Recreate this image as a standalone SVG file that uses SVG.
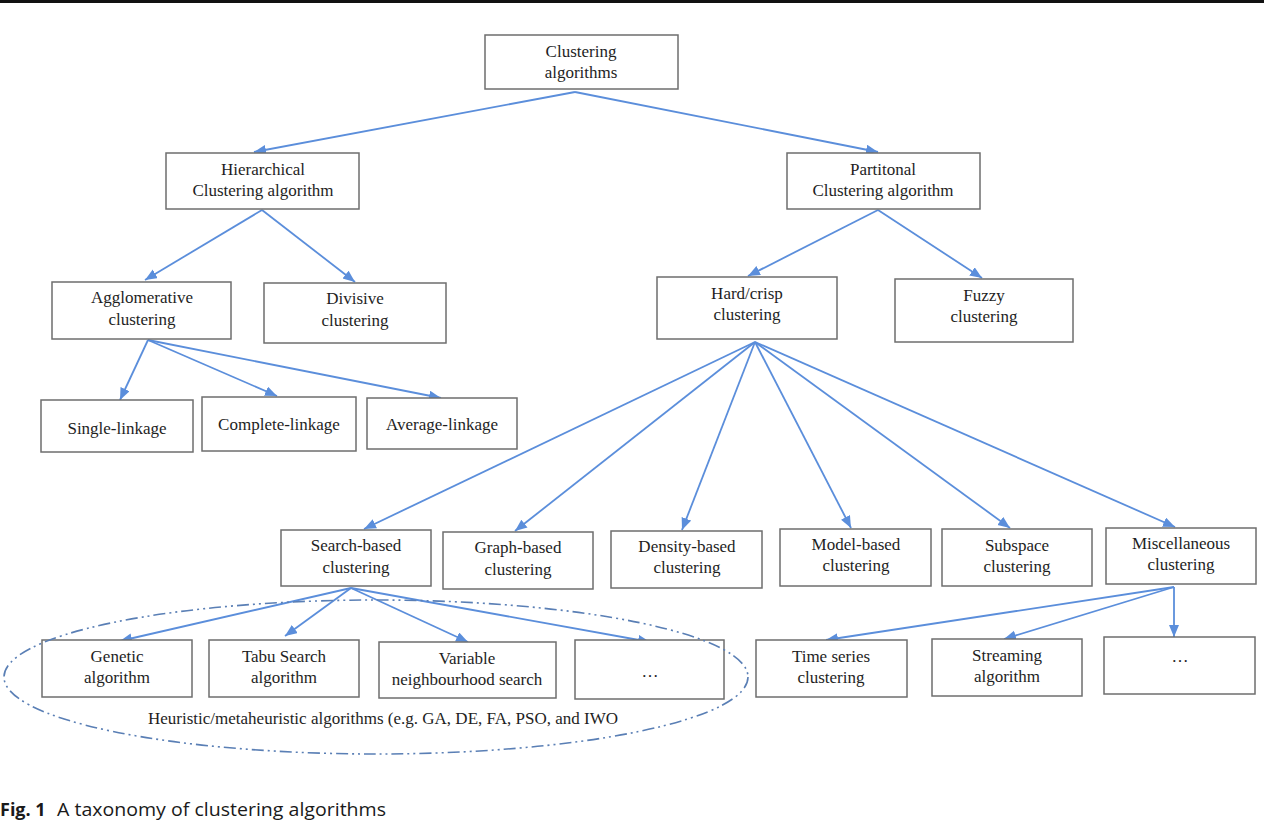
<svg xmlns="http://www.w3.org/2000/svg" width="1272" height="833" viewBox="0 0 1272 833">
<style>
.box{fill:#fff;stroke:#6e6e6e;stroke-width:1.5}
.t{font-family:"Liberation Serif","Times New Roman",serif;font-size:17px;fill:#1e1e1e;text-anchor:middle}
.c{stroke:#5b8edb;stroke-width:1.8;fill:none}
.cap{font-family:"Open Sans","Liberation Sans",sans-serif;font-size:18px;fill:#1a1a1a}
</style>
<defs>
<marker id="ah" markerUnits="userSpaceOnUse" markerWidth="14" markerHeight="12" refX="12" refY="5" orient="auto">
<path d="M0,0 L12,5 L0,10 Z" fill="#5b8edb"/>
</marker>
</defs>
<rect x="0" y="0" width="1264" height="3" fill="#111"/>

<g id="connectors">
<line class="c" x1="575" y1="92" x2="254" y2="152" marker-end="url(#ah)"/>
<line class="c" x1="575" y1="92" x2="878" y2="152" marker-end="url(#ah)"/>
<line class="c" x1="262" y1="210" x2="145" y2="280" marker-end="url(#ah)"/>
<line class="c" x1="262" y1="210" x2="355" y2="282" marker-end="url(#ah)"/>
<line class="c" x1="878" y1="210" x2="748" y2="276" marker-end="url(#ah)"/>
<line class="c" x1="878" y1="210" x2="982" y2="278" marker-end="url(#ah)"/>
<line class="c" x1="148" y1="340" x2="120" y2="400" marker-end="url(#ah)"/>
<line class="c" x1="148" y1="340" x2="277" y2="396" marker-end="url(#ah)"/>
<line class="c" x1="148" y1="340" x2="441" y2="398" marker-end="url(#ah)"/>
<line class="c" x1="755" y1="342" x2="364" y2="529" marker-end="url(#ah)"/>
<line class="c" x1="755" y1="342" x2="515" y2="531" marker-end="url(#ah)"/>
<line class="c" x1="755" y1="342" x2="682" y2="530" marker-end="url(#ah)"/>
<line class="c" x1="755" y1="342" x2="851" y2="528" marker-end="url(#ah)"/>
<line class="c" x1="755" y1="342" x2="1010" y2="528" marker-end="url(#ah)"/>
<line class="c" x1="755" y1="342" x2="1175" y2="527" marker-end="url(#ah)"/>
<line class="c" x1="351" y1="588" x2="120" y2="641" marker-end="url(#ah)"/>
<line class="c" x1="351" y1="588" x2="285" y2="636" marker-end="url(#ah)"/>
<line class="c" x1="351" y1="588" x2="468" y2="642" marker-end="url(#ah)"/>
<line class="c" x1="351" y1="588" x2="650" y2="642" marker-end="url(#ah)"/>
<line class="c" x1="1174" y1="587" x2="826" y2="640" marker-end="url(#ah)"/>
<line class="c" x1="1174" y1="587" x2="1004" y2="639" marker-end="url(#ah)"/>
<line class="c" x1="1174" y1="587" x2="1174" y2="637" marker-end="url(#ah)"/>
</g>

<g id="n-root"><rect class="box" x="485" y="35" width="193" height="54"/><text class="t" x="581" y="57">Clustering</text><text class="t" x="581" y="78">algorithms</text></g>
<g id="n-hier"><rect class="box" x="166" y="153" width="193" height="56"/><text class="t" x="263" y="175">Hierarchical</text><text class="t" x="263" y="196">Clustering algorithm</text></g>
<g id="n-part"><rect class="box" x="787" y="153" width="193" height="56"/><text class="t" x="883" y="175">Partitonal</text><text class="t" x="883" y="196">Clustering algorithm</text></g>
<g id="n-agglo"><rect class="box" x="52" y="282" width="179" height="57"/><text class="t" x="142" y="303">Agglomerative</text><text class="t" x="142" y="325">clustering</text></g>
<g id="n-div"><rect class="box" x="264" y="283" width="182" height="60"/><text class="t" x="355" y="304">Divisive</text><text class="t" x="355" y="326">clustering</text></g>
<g id="n-hard"><rect class="box" x="657" y="277" width="180" height="62"/><text class="t" x="747" y="299">Hard/crisp</text><text class="t" x="747" y="320">clustering</text></g>
<g id="n-fuzzy"><rect class="box" x="895" y="279" width="178" height="63"/><text class="t" x="984" y="301">Fuzzy</text><text class="t" x="984" y="322">clustering</text></g>
<g id="n-single"><rect class="box" x="41" y="400" width="152" height="52"/><text class="t" x="117" y="434">Single-linkage</text></g>
<g id="n-complete"><rect class="box" x="202" y="397" width="154" height="54"/><text class="t" x="279" y="430">Complete-linkage</text></g>
<g id="n-average"><rect class="box" x="367" y="398" width="150" height="51"/><text class="t" x="442" y="430">Average-linkage</text></g>
<g id="n-search"><rect class="box" x="281" y="530" width="150" height="56"/><text class="t" x="356" y="551">Search-based</text><text class="t" x="356" y="573">clustering</text></g>
<g id="n-graph"><rect class="box" x="443" y="532" width="150" height="57"/><text class="t" x="518" y="553">Graph-based</text><text class="t" x="518" y="575">clustering</text></g>
<g id="n-density"><rect class="box" x="611" y="531" width="151" height="57"/><text class="t" x="687" y="552">Density-based</text><text class="t" x="687" y="573">clustering</text></g>
<g id="n-model"><rect class="box" x="780" y="529" width="151" height="57"/><text class="t" x="856" y="550">Model-based</text><text class="t" x="856" y="571">clustering</text></g>
<g id="n-subspace"><rect class="box" x="942" y="529" width="150" height="57"/><text class="t" x="1017" y="551">Subspace</text><text class="t" x="1017" y="572">clustering</text></g>
<g id="n-misc"><rect class="box" x="1106" y="528" width="150" height="56"/><text class="t" x="1181" y="549">Miscellaneous</text><text class="t" x="1181" y="570">clustering</text></g>
<g id="n-genetic"><rect class="box" x="42" y="640" width="150" height="57"/><text class="t" x="117" y="662">Genetic</text><text class="t" x="117" y="683">algorithm</text></g>
<g id="n-tabu"><rect class="box" x="209" y="640" width="150" height="57"/><text class="t" x="284" y="662">Tabu Search</text><text class="t" x="284" y="683">algorithm</text></g>
<g id="n-vns"><rect class="box" x="379" y="642" width="177" height="56"/><text class="t" x="467" y="664">Variable</text><text class="t" x="467" y="685">neighbourhood search</text></g>
<g id="n-dots1"><rect class="box" x="575" y="640" width="149" height="59"/><text class="t" x="650" y="677">…</text></g>
<g id="n-time"><rect class="box" x="756" y="640" width="151" height="57"/><text class="t" x="831" y="662">Time series</text><text class="t" x="831" y="683">clustering</text></g>
<g id="n-stream"><rect class="box" x="932" y="639" width="150" height="57"/><text class="t" x="1007" y="661">Streaming</text><text class="t" x="1007" y="682">algorithm</text></g>
<g id="n-dots2"><rect class="box" x="1104" y="637" width="151" height="57"/><text class="t" x="1180" y="662">…</text></g>

<g id="group-heuristic">
<ellipse cx="376" cy="677" rx="372" ry="77" fill="none" stroke="#5a7fb5" stroke-width="1.6" stroke-dasharray="12 4 2 4 2 4"/>
<text class="t" x="383" y="724">Heuristic/metaheuristic algorithms (e.g. GA, DE, FA, PSO, and IWO</text>
</g>

<text class="cap" x="0" y="816"><tspan font-weight="bold">Fig. 1</tspan><tspan x="57" textLength="329" lengthAdjust="spacingAndGlyphs">A taxonomy of clustering algorithms</tspan></text>
</svg>
